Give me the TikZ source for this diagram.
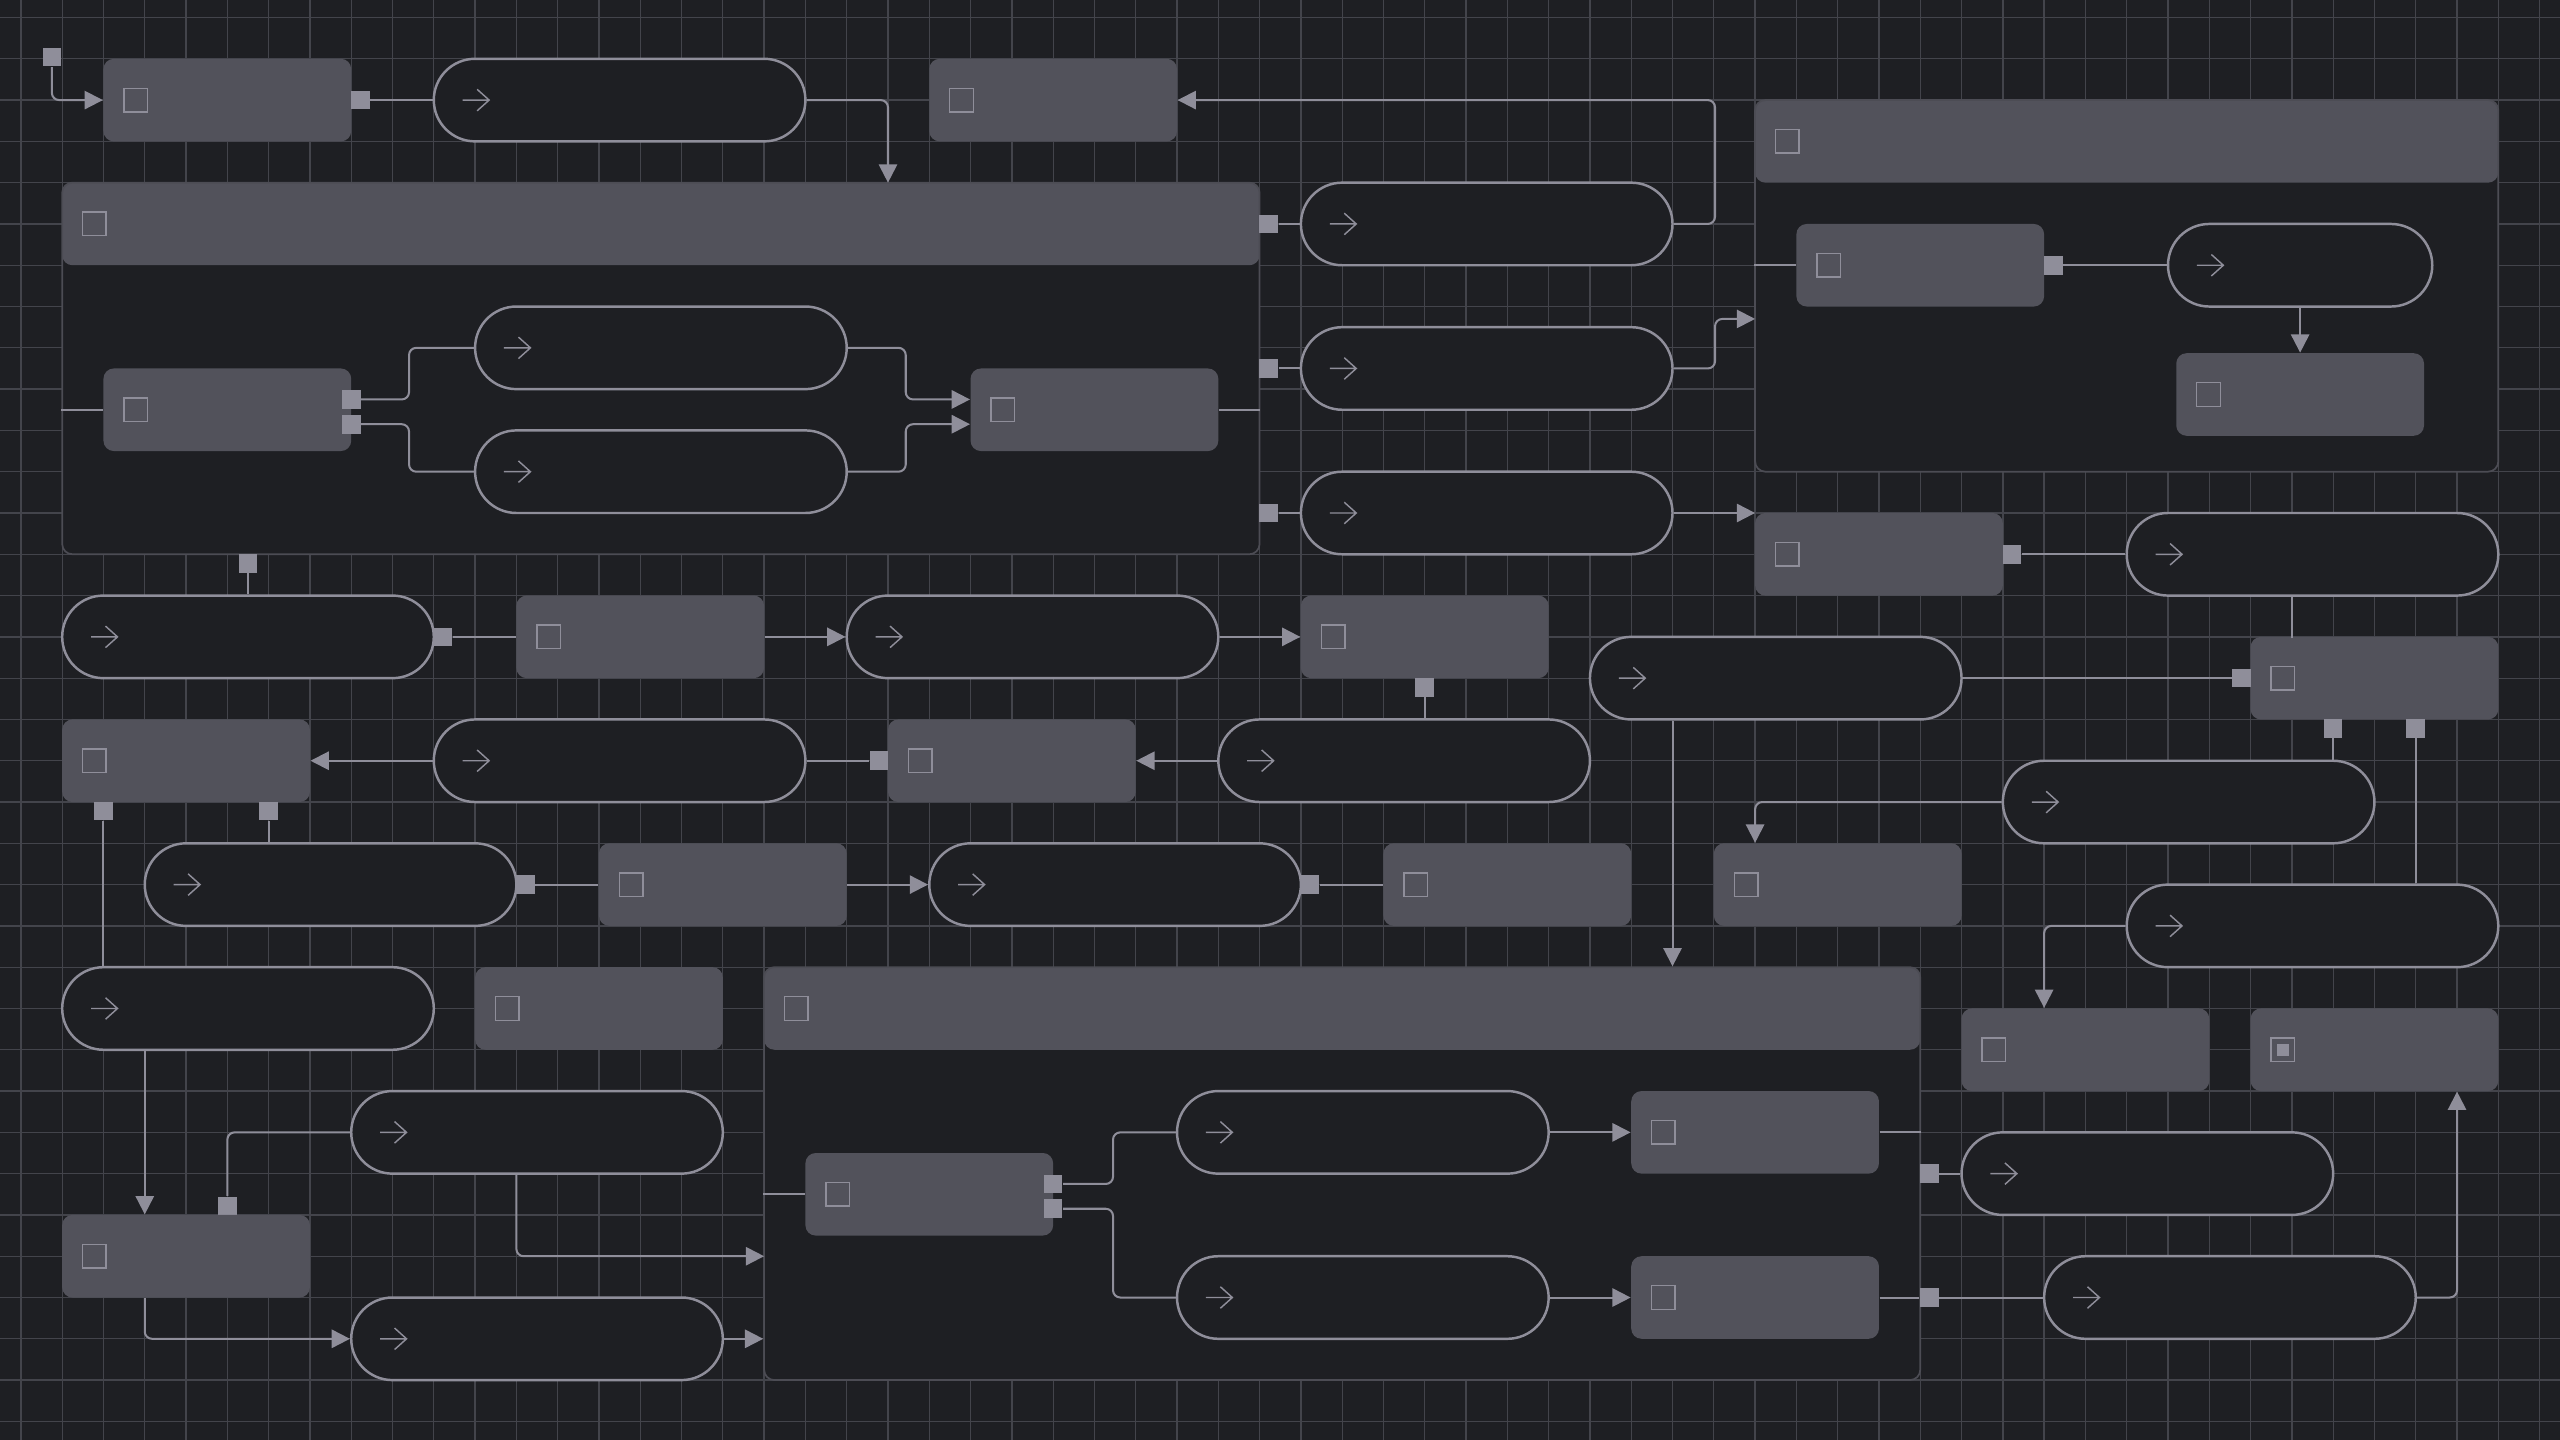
\documentclass[tikz,border=0pt]{standalone}
\usetikzlibrary{arrows.meta}
\definecolor{canvas}{HTML}{1E1F23}
\definecolor{gridc}{HTML}{43444B}
\definecolor{boxc}{HTML}{52525B}
\definecolor{wire}{HTML}{8F8E9A}
\definecolor{frame}{HTML}{4C4C54}
\tikzset{
  icon/.style={draw=wire, line width=0.5pt, sharp corners},
  box/.style={rectangle, fill=boxc, rounded corners=0.125cm, inner sep=0pt,
    minimum width=3cm, minimum height=1cm,
    path picture={\draw[icon] ([xshift=0.2475cm,yshift=-0.1425cm]path picture bounding box.west) rectangle ++(0.285cm,0.285cm);}},
  boxsel/.style={box,
    path picture={\draw[icon] ([xshift=0.2475cm,yshift=-0.1425cm]path picture bounding box.west) rectangle ++(0.285cm,0.285cm);
      \fill[wire, sharp corners] ([xshift=0.315cm,yshift=-0.075cm]path picture bounding box.west) rectangle ++(0.15cm,0.15cm);}},
  pill/.style={rectangle, draw=wire, fill=canvas, line width=0.85pt, rounded corners=0.5cm, inner sep=0pt,
    minimum width=4.5cm, minimum height=1cm,
    path picture={\draw[icon] ([xshift=0.35cm]path picture bounding box.west) -- ++(0.32cm,0cm)
      ++(-0.145cm,0.13cm) -- ++(0.145cm,-0.13cm) -- ++(-0.145cm,-0.13cm);}},
  port/.style={rectangle, fill=wire, minimum size=0.225cm, inner sep=0pt},
  container/.style={rectangle, draw=frame, fill=canvas, line width=0.6pt, rounded corners=0.125cm, inner sep=0pt,
    path picture={\fill[boxc] (path picture bounding box.north west) rectangle ([yshift=-1cm]path picture bounding box.north east);
      \draw[icon] ([xshift=0.2475cm,yshift=-0.6425cm]path picture bounding box.north west) rectangle ++(0.285cm,0.285cm);}},
  link/.style={draw=wire, line width=0.7pt, rounded corners=2.5pt},
  flow/.style={link, -{Triangle[length=6.3pt,width=6.3pt]}},
  gridline/.style={draw=gridc, line width=0.45pt}
}
\begin{document}
\begin{tikzpicture}[x=0.5cm,y=-0.5cm]
  \useasboundingbox (-0.506,-0.424) rectangle (61.494,34.451);
  \fill[canvas] (-0.506,-0.424) rectangle (61.494,34.451);
  \foreach \gx in {0,...,61} \draw[gridline] (\gx,-0.424) -- (\gx,34.451);
  \foreach \gy in {0,...,34} \draw[gridline] (-0.506,\gy) -- (61.494,\gy);

  % containers
  \node[container, minimum width=14.5cm, minimum height=4.5cm] (pc) at (15.5,8.5) {};
  \node[container, minimum width=9cm, minimum height=4.5cm] (qc) at (51,6.5) {};
  \node[container, minimum width=14cm, minimum height=5cm] (zc) at (32,28) {};

  % top row
  \node[port] (start) at (0.75,0.96) {};
  \node[box] (a) at (5,2) {};
  \node[port] (aout) at (8.22,2) {};
  \node[pill] (b) at (14.5,2) {};
  \node[box] (c) at (25,2) {};

  % inside pc
  \node[box] (p1) at (5,9.5) {};
  \node[port] (p1o1) at (8,9.25) {};
  \node[port] (p1o2) at (8,9.85) {};
  \node[pill] (p2) at (15.5,8) {};
  \node[pill] (p3) at (15.5,11) {};
  \node[box] (p4) at (26,9.5) {};
  \node[port] (pout1) at (30.22,5) {};
  \node[port] (pout2) at (30.22,8.5) {};
  \node[port] (pout3) at (30.22,12) {};
  \node[port] (pbot) at (5.5,13.22) {};

  \node[pill] (d1) at (35.5,5) {};
  \node[pill] (d2) at (35.5,8.5) {};
  \node[pill] (d3) at (35.5,12) {};

  % inside qc
  \node[box] (q1) at (46,6) {};
  \node[port] (q1o) at (49.22,6) {};
  \node[pill, minimum width=3.2cm] (q2) at (55.2,6) {};
  \node[box] (q3) at (55.2,9.13) {};

  \node[box] (r1) at (45,13) {};
  \node[port] (r1o) at (48.22,13) {};
  \node[pill] (r2) at (55.5,13) {};
  \node[pill] (s1) at (42.5,16) {};
  \node[box] (r3) at (57,16) {};
  \node[port] (r3i) at (53.78,16) {};
  \node[port] (r3o1) at (56,17.22) {};
  \node[port] (r3o2) at (58,17.22) {};
  \node[pill] (t1) at (52.5,19) {};
  \node[pill] (t2) at (55.5,22) {};
  \node[box] (u1) at (44,21) {};
  \node[box] (v1) at (50,25) {};
  \node[boxsel] (v2) at (57,25) {};

  % left rows
  \node[pill] (e1) at (5.5,15) {};
  \node[port] (e1o) at (10.22,15) {};
  \node[box] (e2) at (15,15) {};
  \node[pill] (e3) at (24.5,15) {};
  \node[box] (e4) at (34,15) {};
  \node[port] (e4o) at (34,16.22) {};

  \node[box] (f0) at (4,18) {};
  \node[port] (f0o1) at (2,19.22) {};
  \node[port] (f0o2) at (6,19.22) {};
  \node[pill] (f1) at (14.5,18) {};
  \node[port] (f2i) at (20.78,18) {};
  \node[box] (f2) at (24,18) {};
  \node[pill] (f3) at (33.5,18) {};

  \node[pill] (g1) at (7.5,21) {};
  \node[port] (g1o) at (12.22,21) {};
  \node[box] (g2) at (17,21) {};
  \node[pill] (g3) at (26.5,21) {};
  \node[port] (g3o) at (31.22,21) {};
  \node[box] (g4) at (36,21) {};

  \node[pill] (h1) at (5.5,24) {};
  \node[box] (h2) at (14,24) {};
  \node[pill] (i1) at (12.5,27) {};
  \node[port] (j1i) at (5,28.78) {};
  \node[box] (j1) at (4,30) {};
  \node[pill] (i2) at (12.5,32) {};

  % inside zc
  \node[box] (z1) at (22,28.5) {};
  \node[port] (z1o1) at (25,28.25) {};
  \node[port] (z1o2) at (25,28.85) {};
  \node[pill] (z2) at (32.5,27) {};
  \node[pill] (z3) at (32.5,31) {};
  \node[box] (z4) at (42,27) {};
  \node[box] (z5) at (42,31) {};
  \node[port] (zo1) at (46.22,28) {};
  \node[port] (zo2) at (46.22,31) {};
  \node[pill] (w1) at (51.5,28) {};
  \node[pill] (w2) at (53.5,31) {};

  \coordinate (pin) at (21,4);
  \coordinate (qin) at (42,7.3);
  \coordinate (rin) at (42,12);
  \coordinate (zin) at (18,30);

  % connectors
  \draw[flow] (start) |- (a);
  \draw[link] (aout) -- (b);
  \draw[flow] (b) -| (pin);
  \draw[flow] (d1.east) -- ++(1,0) |- (c);
  \draw[flow] (d2.east) -- ++(1,0) |- (qin);
  \draw[flow] (d3) -- (rin);
  \draw[link] (pout1) -- (d1);
  \draw[link] (pout2) -- (d2);
  \draw[link] (pout3) -- (d3);

  \draw[link] (pc.west |- p1) -- (p1);
  \draw[link] (p1o1) -- ++(1.4,0) |- (p2);
  \draw[link] (p1o2) -- ++(1.4,0) |- (p3);
  \draw[flow] (p2.east) -- ++(1.4,0) |- (p4.west |- p1o1);
  \draw[flow] (p3.east) -- ++(1.4,0) |- (p4.west |- p1o2);
  \draw[link] (p4) -- (pc.east |- p4);

  \draw[link] (qc.west |- q1) -- (q1);
  \draw[link] (q1o) -- (q2);
  \draw[flow] (q2) -- (q3);

  \draw[link] (r1o) -- (r2);
  \draw[link] ([xshift=-0.25cm]r2.south) -- ++(0,1);
  \draw[link] (s1) -- (r3i);
  \draw[link] (r3o1) -- (r3o1 |- t1.north);
  \draw[link] (r3o2) -- (r3o2 |- t2.north);
  \draw[flow] (t1.west) -| ([xshift=-1cm]u1.north);
  \draw[flow] (t2.west) -| ([xshift=-0.5cm]v1.north);
  \draw[flow] (w2.east) -| ([xshift=1cm]v2.south);
  \draw[flow] ([xshift=-1.25cm]s1.south) -- ([xshift=-1.25cm]s1.south |- zc.north);

  \draw[link] (pbot) -- (e1);
  \draw[link] (e1o) -- (e2);
  \draw[flow] (e2) -- (e3);
  \draw[flow] (e3) -- (e4);
  \draw[link] (e4o) -- (e4o |- f3.north);
  \draw[flow] (f3) -- (f2);
  \draw[link] (f1) -- (f2i);
  \draw[flow] (f1) -- (f0);
  \draw[link] (f0o2) -- (f0o2 |- g1.north);
  \draw[link] (f0o1) -- (f0o1 |- h1.north);
  \draw[link] (g1o) -- (g2);
  \draw[flow] (g2) -- (g3);
  \draw[link] (g3o) -- (g4);
  \draw[flow] ([xshift=-1.25cm]h1.south) -- ([xshift=-1.25cm]h1.south |- j1.north);
  \draw[link] (i1.west) -| (j1i);
  \draw[flow] ([xshift=-0.25cm]i1.south) |- (zin);
  \draw[flow] ([xshift=-0.5cm]j1.south) |- (i2);
  \draw[flow] (i2) -- (i2 -| zc.west);

  \draw[link] (zc.west |- z1) -- (z1);
  \draw[link] (z1o1) -- ++(1.45,0) |- (z2);
  \draw[link] (z1o2) -- ++(1.45,0) |- (z3);
  \draw[flow] (z2) -- (z4);
  \draw[flow] (z3) -- (z5);
  \draw[link] (z4) -- (zc.east |- z4);
  \draw[link] (z5) -- (zo2);
  \draw[link] (zo2) -- (w2);
  \draw[link] (zo1) -- (w1);
\end{tikzpicture}
\end{document}
